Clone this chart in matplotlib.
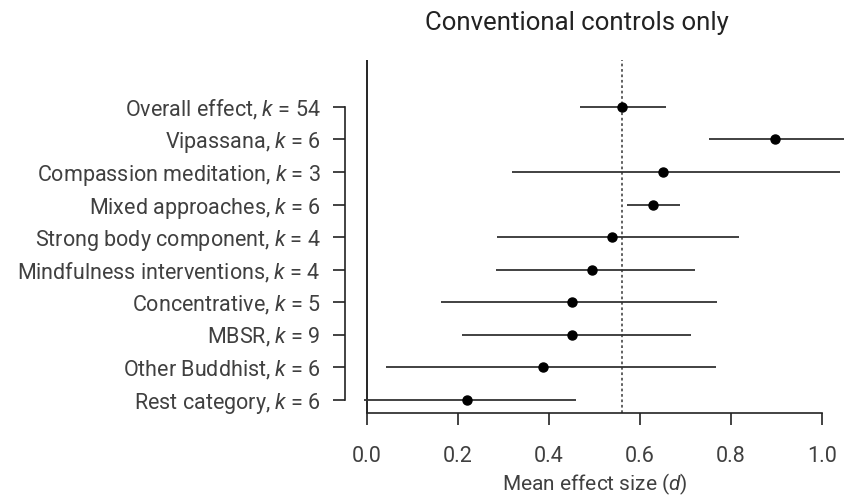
import matplotlib
matplotlib.use("Agg")
import matplotlib.pyplot as plt

# Subgroup estimates (mean d with 95% CI), top row first
groups = ["Overall effect", "Vipassana", "Compassion meditation", "Mixed approaches",
          "Strong body component", "Mindfulness interventions", "Concentrative",
          "MBSR", "Other Buddhist", "Rest category"]
k_values = [54, 6, 3, 6, 4, 4, 5, 9, 6, 6]
effect = [0.56, 0.896, 0.651, 0.629, 0.538, 0.494, 0.450, 0.450, 0.386, 0.220]
ci_low = [0.468, 0.752, 0.320, 0.571, 0.287, 0.283, 0.162, 0.209, 0.043, -0.007]
ci_high = [0.658, 1.10, 1.039, 0.688, 0.818, 0.721, 0.768, 0.713, 0.766, 0.459]
overall_d = 0.56
xticks = [0.0, 0.2, 0.4, 0.6, 0.8, 1.0]

plt.rcParams["font.family"] = ["Roboto", "DejaVu Sans"]
plt.rcParams["mathtext.fontset"] = "custom"
plt.rcParams["mathtext.it"] = "Roboto:italic"
plt.rcParams["mathtext.rm"] = "Roboto"
text_col = "#404040"

fig = plt.figure(figsize=(8.45, 4.95), dpi=100)
ax = fig.add_axes([0.4232, 0.1657, 0.5768, 0.7131])

n = len(groups)
ypos = list(range(n - 1, -1, -1))

for y, lo, hi in zip(ypos, ci_low, ci_high):
    ax.plot([lo, hi], [y, y], color="#333333", lw=1.3, solid_capstyle="butt", zorder=2)
ax.plot(effect, ypos, "o", color="black", markersize=6.5, zorder=3)

ax.axvline(0, color="black", lw=1.2, zorder=1)
ax.axvline(overall_d, color="#555555", lw=1.3, ls=(0, (1.5, 1.5)), zorder=1)

ax.set_xlim(-0.02, 1.05)
ax.set_ylim(-0.4, 10.44)

labels = [f"{g}, $k$ = {kv}" for g, kv in zip(groups, k_values)]
ax.set_yticks(ypos)
ax.set_yticklabels(labels)
ax.set_xticks(xticks)
ax.set_xticklabels([f"{t:.1f}" for t in xticks])

ax.spines["top"].set_visible(False)
ax.spines["right"].set_visible(False)
ax.spines["left"].set_position(("outward", 9))
ax.spines["left"].set_bounds(0, n - 1)
ax.spines["bottom"].set_bounds(0, 1.0)
for s in ("left", "bottom"):
    ax.spines[s].set_linewidth(1.2)
    ax.spines[s].set_color("#222222")

ax.tick_params(axis="y", length=8.5, width=1.2, pad=9, labelsize=15.5, colors="#222222", labelcolor=text_col)
ax.tick_params(axis="x", length=8.5, width=1.2, pad=15.5, labelsize=15.5, colors="#222222", labelcolor=text_col)

ax.set_xlabel("Mean effect size ($d$)", fontsize=15, color=text_col)
ax.xaxis.set_label_coords(0.487, -0.165)
fig.text(0.683, 0.954, "Conventional controls only", ha="center", va="center",
         fontsize=18.5, color="#222222")

fig.savefig("out.png", dpi=100)
